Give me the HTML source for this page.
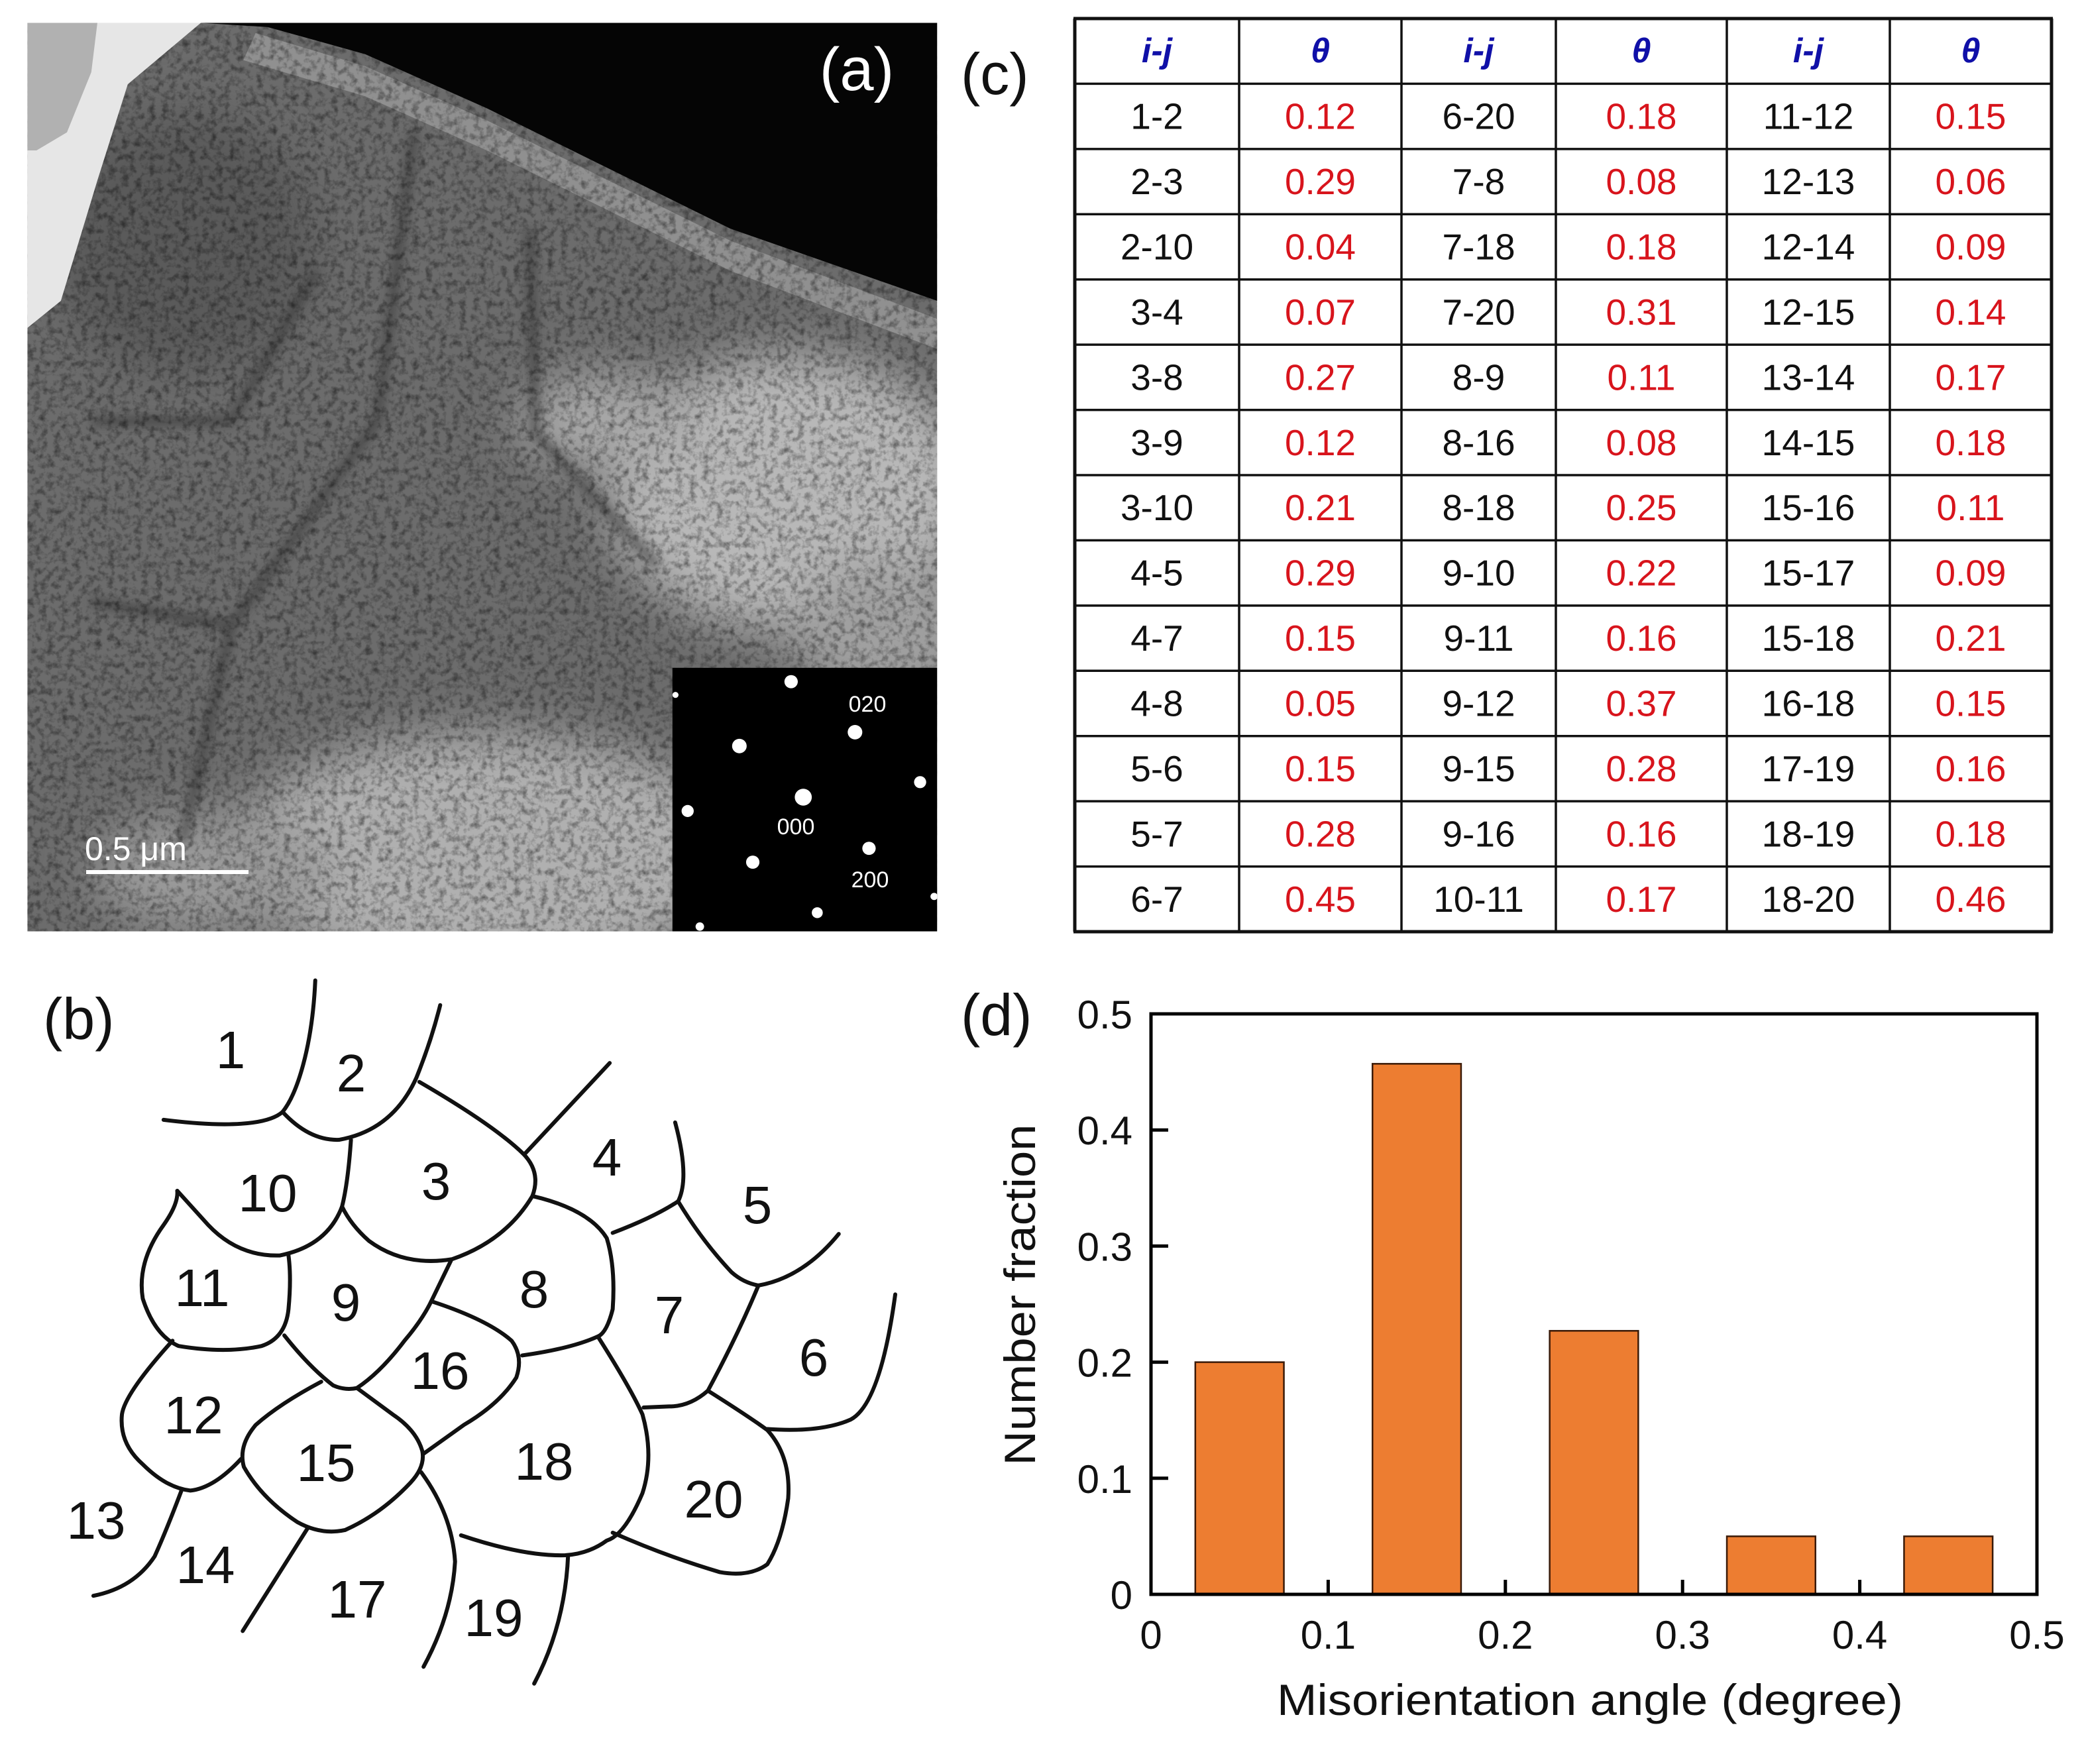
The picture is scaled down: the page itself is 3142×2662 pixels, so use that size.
<!DOCTYPE html>
<html><head><meta charset="utf-8">
<style>
html,body{margin:0;padding:0;background:#fff;}
svg{display:block;}
text{font-family:"Liberation Sans",Arial,sans-serif;}
</style></head>
<body>
<svg id="root" width="3142" height="2662" viewBox="0 0 3142 2662" xmlns="http://www.w3.org/2000/svg">
<defs>
  <filter id="noise" x="0" y="0" width="100%" height="100%">
    <feTurbulence type="fractalNoise" baseFrequency="0.09" numOctaves="3" seed="4" result="t"/>
    <feColorMatrix type="matrix" values="0 0 0 0 0  0 0 0 0 0  0 0 0 0 0  0 0 0 -2.2 1.25"/>
  </filter>
  <filter id="blur40"><feGaussianBlur stdDeviation="40"/></filter>
  <filter id="blur8"><feGaussianBlur stdDeviation="8"/></filter>
  <filter id="glow"><feGaussianBlur stdDeviation="3"/></filter>
  <clipPath id="clipA"><rect x="45" y="38" width="1495" height="1510"/></clipPath>
</defs>

<!-- Panel (a) micrograph -->
<g>
<svg x="0" y="0" width="1440" height="1420" viewBox="0 0 1568 1564" preserveAspectRatio="none">
  <g clip-path="url(#clipA)">
    <rect x="45" y="38" width="1495" height="1510" fill="#6c6c6c"/>
    <g filter="url(#blur40)">
      <ellipse cx="1300" cy="820" rx="300" ry="230" fill="#b8b8b8"/>
      <ellipse cx="800" cy="1420" rx="420" ry="200" fill="#b0b0b0"/>
      <ellipse cx="1000" cy="700" rx="150" ry="80" fill="#a8a8a8"/>
      <ellipse cx="1450" cy="1050" rx="150" ry="120" fill="#a0a0a0"/>
      <ellipse cx="350" cy="1450" rx="200" ry="100" fill="#9a9a9a"/>
      <ellipse cx="300" cy="400" rx="220" ry="220" fill="#5a5a5a"/>
    </g>
    <g fill="none" stroke="#2f2f2f" stroke-width="14" opacity="0.6" filter="url(#blur8)">
      <path d="M150,1000 L380,1040 L620,700 L680,220"/>
      <path d="M380,1040 L300,1400"/>
      <path d="M870,380 L880,720 L1080,940"/>
      <path d="M150,700 L380,700 L520,450"/>
    </g>
    <path d="M420,55 L600,110 L800,200 L1200,400 L1540,530 L1540,580 L1200,450 L800,250 L600,160 L400,100 Z" fill="#9a9a9a" opacity="0.8"/>
    <rect x="45" y="38" width="1495" height="1510" filter="url(#noise)" opacity="0.45"/>
    <path d="M45,38 L330,38 L210,140 L160,300 L100,500 L45,545 Z" fill="#e6e6e6"/>
    <path d="M45,38 L160,38 L150,120 L110,220 L60,250 L45,250 Z" fill="#9a9a9a" opacity="0.7"/>
    <path d="M330,38 L1540,38 L1540,500 L1200,380 L800,180 L600,90 L440,45 Z" fill="#050505"/>
    <rect x="1105" y="1110" width="435" height="438" fill="#000"/>
    <g fill="#fff">
      <ellipse cx="1300" cy="1133" rx="11" ry="11"/>
      <ellipse cx="1405" cy="1217" rx="12" ry="12"/>
      <ellipse cx="1215" cy="1240" rx="12" ry="12"/>
      <ellipse cx="1320" cy="1325" rx="14" ry="14"/>
      <ellipse cx="1512" cy="1300" rx="10" ry="10"/>
      <ellipse cx="1130" cy="1348" rx="10" ry="10"/>
      <ellipse cx="1428" cy="1410" rx="11" ry="11"/>
      <ellipse cx="1237" cy="1433" rx="11" ry="11"/>
      <ellipse cx="1343" cy="1517" rx="9" ry="9"/>
      <ellipse cx="1150" cy="1540" rx="7" ry="7"/>
      <ellipse cx="1535" cy="1490" rx="6" ry="6"/>
      <ellipse cx="1110" cy="1155" rx="5" ry="5"/>
    </g>
  </g>
</svg>
<text x="1293" y="136" font-size="92" fill="#fff" text-anchor="middle">(a)</text>
<text x="1309" y="1074" font-size="34" fill="#fff" text-anchor="middle">020</text>
<text x="1201" y="1259" font-size="34" fill="#fff" text-anchor="middle">000</text>
<text x="1313" y="1339" font-size="34" fill="#fff" text-anchor="middle">200</text>
<rect x="130" y="1313" width="245" height="6" fill="#fff"/>
<text x="128" y="1298" font-size="50" fill="#fff">0.5 μm</text>
</g>

<!-- Panel (b) grain schematic -->
<g>
<text x="65" y="1568" font-size="88" fill="#111">(b)</text>
<g transform="translate(0,1420) scale(0.8977,0.7937)" fill="none" stroke="#111" stroke-width="6" stroke-linecap="round" stroke-linejoin="round">
  <path vector-effect="non-scaling-stroke" d="M530,75 C525,200 500,290 475,325"/>
  <path vector-effect="non-scaling-stroke" d="M275,340 C380,355 450,350 475,325"/>
  <path vector-effect="non-scaling-stroke" d="M475,325 Q520,380 570,378 Q660,360 700,260 Q725,190 740,122"/>
  <path vector-effect="non-scaling-stroke" d="M705,268 Q830,350 880,405"/>
  <path vector-effect="non-scaling-stroke" d="M1025,232 L882,405"/>
  <path vector-effect="non-scaling-stroke" d="M880,405 Q910,440 895,485 Q850,570 760,605 Q680,620 620,570 Q590,540 575,505"/>
  <path vector-effect="non-scaling-stroke" d="M590,378 Q585,460 575,505 Q550,580 470,598 Q400,600 350,540 L298,475"/>
  <path vector-effect="non-scaling-stroke" d="M298,475 Q300,500 275,540 Q230,610 240,680 Q260,750 300,770 Q380,785 440,770 Q480,755 485,700 Q490,640 485,598"/>
  <path vector-effect="non-scaling-stroke" d="M478,750 Q520,810 560,845 Q580,855 600,850 Q640,820 680,760 Q710,720 725,685 L758,608"/>
  <path vector-effect="non-scaling-stroke" d="M895,485 Q990,510 1020,565 Q1035,620 1030,700 Q1020,745 1005,752 Q960,775 878,788"/>
  <path vector-effect="non-scaling-stroke" d="M725,685 Q820,720 860,760 Q880,790 868,830 Q840,880 780,920 L712,975"/>
  <path vector-effect="non-scaling-stroke" d="M290,760 Q210,860 205,900 Q200,955 240,995 Q280,1040 320,1045 Q360,1040 405,985"/>
  <path vector-effect="non-scaling-stroke" d="M540,838 Q470,880 430,920 Q400,960 410,1000 Q440,1060 500,1105 Q540,1130 580,1120 Q640,1090 690,1030 Q715,1000 710,970 Q700,930 660,900 L600,850"/>
  <path vector-effect="non-scaling-stroke" d="M305,1045 Q280,1120 260,1170 Q225,1230 157,1245"/>
  <path vector-effect="non-scaling-stroke" d="M518,1115 L408,1312"/>
  <path vector-effect="non-scaling-stroke" d="M708,1010 Q760,1090 765,1180 Q760,1280 712,1380"/>
  <path vector-effect="non-scaling-stroke" d="M1005,752 Q1060,850 1080,900 Q1100,980 1080,1050 Q1050,1130 1020,1140 Q990,1165 950,1168 Q880,1170 775,1130"/>
  <path vector-effect="non-scaling-stroke" d="M955,1168 Q950,1300 898,1412"/>
  <path vector-effect="non-scaling-stroke" d="M1030,555 Q1100,525 1140,495 Q1160,450 1135,345"/>
  <path vector-effect="non-scaling-stroke" d="M1140,495 Q1180,570 1230,630 Q1250,650 1275,655 Q1350,640 1410,557"/>
  <path vector-effect="non-scaling-stroke" d="M1275,655 Q1240,750 1190,855 Q1160,885 1125,885 L1082,887"/>
  <path vector-effect="non-scaling-stroke" d="M1190,855 Q1260,905 1290,930 Q1330,980 1325,1060 Q1315,1140 1290,1185 Q1260,1210 1210,1200 Q1120,1170 1030,1125"/>
  <path vector-effect="non-scaling-stroke" d="M1290,928 Q1380,935 1430,910 Q1480,880 1505,672"/>
</g>
<g font-size="80" fill="#111" text-anchor="middle">
  <text x="348" y="1612">1</text><text x="530" y="1647">2</text><text x="658" y="1810">3</text>
  <text x="916" y="1774">4</text><text x="1143" y="1846">5</text><text x="1228" y="2076">6</text>
  <text x="1010" y="2012">7</text><text x="806" y="1973">8</text><text x="522" y="1993">9</text>
  <text x="404" y="1828">10</text><text x="305" y="1971">11</text><text x="292" y="2163">12</text>
  <text x="145" y="2322">13</text><text x="310" y="2389">14</text><text x="492" y="2235">15</text>
  <text x="664" y="2096">16</text><text x="539" y="2441">17</text><text x="821" y="2233">18</text>
  <text x="745" y="2469">19</text><text x="1077" y="2290">20</text>
</g>
</g>

<!-- Panel (c) table -->
<text x="1450" y="142" font-size="88" fill="#111">(c)</text>
<g id="table"></g>

<!-- Panel (d) histogram -->
<text x="1450" y="1562" font-size="88" fill="#111">(d)</text>
<g id="chart"></g>
</svg>

<script>
// ---- Table data ----
const pairCol1 = ["1-2","2-3","2-10","3-4","3-8","3-9","3-10","4-5","4-7","4-8","5-6","5-7","6-7"];
const thetaCol1 = ["0.12","0.29","0.04","0.07","0.27","0.12","0.21","0.29","0.15","0.05","0.15","0.28","0.45"];
const pairCol2 = ["6-20","7-8","7-18","7-20","8-9","8-16","8-18","9-10","9-11","9-12","9-15","9-16","10-11"];
const thetaCol2 = ["0.18","0.08","0.18","0.31","0.11","0.08","0.25","0.22","0.16","0.37","0.28","0.16","0.17"];
const pairCol3 = ["11-12","12-13","12-14","12-15","13-14","14-15","15-16","15-17","15-18","16-18","17-19","18-19","18-20"];
const thetaCol3 = ["0.15","0.06","0.09","0.14","0.17","0.18","0.11","0.09","0.21","0.15","0.16","0.18","0.46"];

// ---- Histogram data ----
const binCenters = [0.05, 0.15, 0.25, 0.35, 0.45];
const fractions = [0.20, 0.457, 0.227, 0.05, 0.05];
const xTicks = [0, 0.1, 0.2, 0.3, 0.4, 0.5];
const xTickLabels = ["0","0.1","0.2","0.3","0.4","0.5"];
const yTicks = [0, 0.1, 0.2, 0.3, 0.4, 0.5];
const yTickLabels = ["0","0.1","0.2","0.3","0.4","0.5"];
const binWidth = 0.05;

const NS = "http://www.w3.org/2000/svg";
function mk(tag, attrs, parent){ const e=document.createElementNS(NS,tag); for(const k in attrs) e.setAttribute(k,attrs[k]); parent.appendChild(e); return e; }

// Table
(function(){
  const g = document.getElementById('table');
  const colX = [1622,1870,2115,2348,2606,2852,3096];
  const top = 28, bottom = 1406, nRows = 14, rh = (bottom-top)/nRows;
  for(let i=0;i<=nRows;i++){ const l=mk('line',{x1:colX[0]-2,x2:colX[6]+2,y1:top+i*rh,y2:top+i*rh,stroke:'#111','stroke-width':(i==0||i==nRows)?5:3.5},g);
    
     }
  colX.forEach((x,i)=>{ const l=mk('line',{x1:x,x2:x,y1:top,y2:bottom,stroke:'#111','stroke-width':(i==0||i==6)?5:3.5},g);
    
     });
  const heads = ["i-j","θ","i-j","θ","i-j","θ"];
  heads.forEach((h,c)=>{ const t=mk('text',{x:(colX[c]+colX[c+1])/2,y:top+rh/2+17,'font-size':52,'font-weight':'bold','font-style':'italic',fill:'#1010a8','text-anchor':'middle'},g);
    t.textContent=h;
    
     });
  const cols = [pairCol1,thetaCol1,pairCol2,thetaCol2,pairCol3,thetaCol3];
  cols.forEach((arr,c)=>{ arr.forEach((v,r)=>{
    const t=mk('text',{x:(colX[c]+colX[c+1])/2,y:top+(r+1)*rh+rh/2+19,'font-size':55,fill:(c%2==1)?'#d8141c':'#111','text-anchor':'middle'},g);
    t.textContent=v;
    
     }); });
})();

// Histogram
(function(){
  const g = document.getElementById('chart');
  const L=1737, R=3074, T=1530, B=2406;
  const xs = v => L + (v-0)/(0.5-0)*(R-L);
  const ys = v => B - (v-0)/(0.5-0)*(B-T);
  binCenters.forEach((c,i)=>{
    const r = mk('rect',{x:xs(c-binWidth/2),y:ys(fractions[i]),width:xs(c+binWidth/2)-xs(c-binWidth/2),height:B-ys(fractions[i]),fill:'#ed7d31',stroke:'#3a1a08','stroke-width':2.5},g);
    
    
  });
  const frame = mk('rect',{x:L,y:T,width:R-L,height:B-T,fill:'none',stroke:'#000','stroke-width':5},g);
  
  
  xTicks.forEach((v,i)=>{
    if(i>0 && i<xTicks.length-1){ const tk=mk('line',{x1:xs(v),x2:xs(v),y1:B,y2:B-22,stroke:'#000','stroke-width':5},g);
      
       }
    const t=mk('text',{x:xs(v),y:B+82,'font-size':60,fill:'#111','text-anchor':'middle'},g);
    t.textContent=xTickLabels[i];
    
    
  });
  yTicks.forEach((v,i)=>{
    if(i>0 && i<yTicks.length-1){ const tk=mk('line',{x1:L,x2:L+26,y1:ys(v),y2:ys(v),stroke:'#000','stroke-width':5},g);
      
       }
    const t=mk('text',{x:L-28,y:ys(v)+22,'font-size':60,fill:'#111','text-anchor':'end'},g);
    t.textContent=yTickLabels[i];
    
    
  });
  const xt=mk('text',{x:(L+R)/2-6,y:2588,'font-size':66,fill:'#111','text-anchor':'middle',textLength:945,lengthAdjust:'spacingAndGlyphs'},g);
  xt.textContent='Misorientation angle (degree)';
  
  
  const yt=mk('text',{x:0,y:0,'font-size':66,fill:'#111','text-anchor':'middle',textLength:515,lengthAdjust:'spacingAndGlyphs',transform:'translate(1562,1954) rotate(-90)'},g);
  yt.textContent='Number fraction';
  
  
})();
</script>
</body></html>
